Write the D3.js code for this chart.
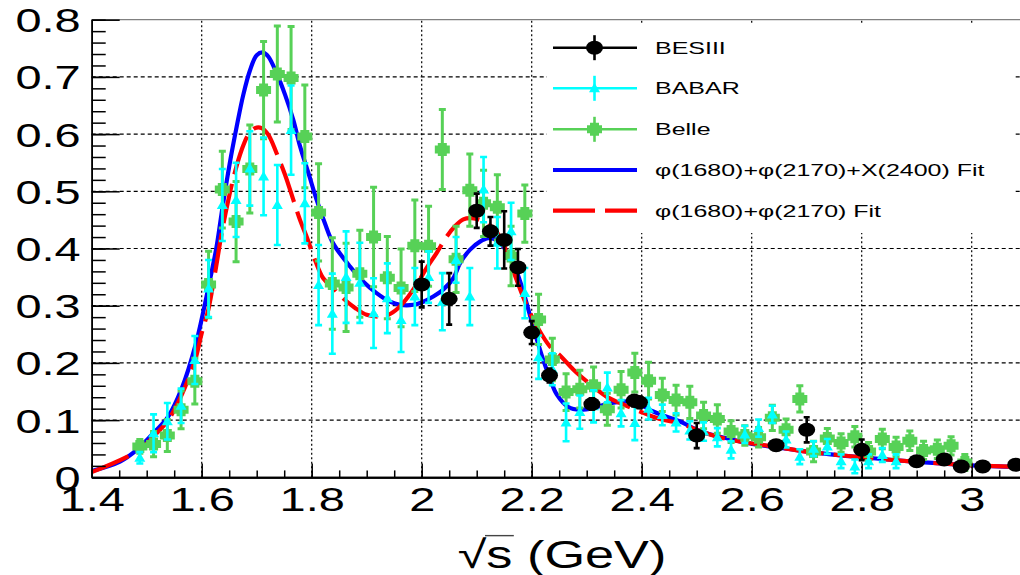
<!DOCTYPE html>
<html>
<head>
<meta charset="utf-8">
<script src="https://cdn.jsdelivr.net/npm/d3@7"></script>
<style>
  html, body { margin: 0; padding: 0; background: #fff; }
  svg { display: block; }
  text { font-family: "Liberation Sans", Arial, Helvetica, sans-serif; fill: #000; }
</style>
</head>
<body>
<svg id="chart" width="1020" height="575"></svg>
<script>
// ---------------- data ----------------
const xTicks = [1.4, 1.6, 1.8, 2.0, 2.2, 2.4, 2.6, 2.8, 3.0];
const xTickLabels = ["1.4", "1.6", "1.8", "2", "2.2", "2.4", "2.6", "2.8", "3"];
const yTicks = [0, 0.1, 0.2, 0.3, 0.4, 0.5, 0.6, 0.7, 0.8];
const yTickLabels = ["0", "0.1", "0.2", "0.3", "0.4", "0.5", "0.6", "0.7", "0.8"];

// BESIII
const besX = [2.0, 2.05, 2.1, 2.125, 2.15, 2.175, 2.2, 2.2324, 2.3094, 2.3864, 2.396, 2.5, 2.6444, 2.7, 2.8, 2.9, 2.95, 2.981, 3.02, 3.08];
const besY = [0.337, 0.312, 0.466, 0.43, 0.415, 0.367, 0.253, 0.178, 0.128, 0.134, 0.131, 0.073, 0.056, 0.083, 0.048, 0.028, 0.031, 0.019, 0.019, 0.022];
const besErr = [0.04, 0.045, 0.03, 0.025, 0.05, 0.032, 0.02, 0.012, 0.01, 0.01, 0.01, 0.022, 0.007, 0.022, 0.018, 0.005, 0.006, 0.005, 0.005, 0.004];

// BABAR
const babarX = [1.4875, 1.5125, 1.5375, 1.5625, 1.5875, 1.6125, 1.6375, 1.6625, 1.6875, 1.7125,
  1.7375, 1.7625, 1.7875, 1.8125, 1.8375, 1.8625, 1.8875, 1.9125, 1.9375, 1.9625,
  1.9875, 2.0125, 2.0375, 2.0625, 2.0875, 2.1125, 2.1375, 2.1625, 2.1875, 2.2125,
  2.2375, 2.2625, 2.2875, 2.3125, 2.3375, 2.3625, 2.3875, 2.4125, 2.4375, 2.4625,
  2.4875, 2.5125, 2.5375, 2.5625, 2.5875, 2.6125, 2.6375, 2.6625, 2.6875, 2.7125,
  2.7375, 2.7625, 2.7875, 2.8125, 2.8375, 2.8625];
const babarY = [0.034, 0.077, 0.098, 0.125, 0.205, 0.33, 0.476, 0.485, 0.54, 0.526,
  0.476, 0.607, 0.479, 0.336, 0.286, 0.35, 0.34, 0.287, 0.313, 0.275,
  0.316, 0.35, 0.307, 0.38, 0.316, 0.503, 0.41, 0.43, 0.322, 0.21,
  0.189, 0.096, 0.114, 0.124, 0.157, 0.112, 0.095, 0.12, 0.109, 0.096,
  0.082, 0.08, 0.07, 0.048, 0.075, 0.086, 0.11, 0.066, 0.036, 0.05,
  0.054, 0.028, 0.019, 0.028, 0.039, 0.028];
const babarErr = [0.01, 0.033, 0.032, 0.03, 0.042, 0.05, 0.063, 0.065, 0.065, 0.068,
  0.07, 0.078, 0.07, 0.07, 0.07, 0.08, 0.07, 0.061, 0.061, 0.056,
  0.05, 0.045, 0.05, 0.04, 0.05, 0.057, 0.045, 0.05, 0.044, 0.038,
  0.028, 0.033, 0.029, 0.028, 0.026, 0.023, 0.03, 0.019, 0.018, 0.016,
  0.016, 0.016, 0.016, 0.015, 0.015, 0.015, 0.015, 0.014, 0.013, 0.013,
  0.013, 0.012, 0.012, 0.012, 0.012, 0.012];

// Belle
const belleX = [1.4875, 1.5125, 1.5375, 1.5625, 1.5875, 1.6125, 1.6375, 1.6625, 1.6875, 1.7125,
  1.7375, 1.7625, 1.7875, 1.8125, 1.8375, 1.8625, 1.8875, 1.9125, 1.9375, 1.9625,
  1.9875, 2.0125, 2.0375, 2.0625, 2.0875, 2.1125, 2.1375, 2.1625, 2.1875, 2.2125,
  2.2375, 2.2625, 2.2875, 2.3125, 2.3375, 2.3625, 2.3875, 2.4125, 2.4375, 2.4625,
  2.4875, 2.5125, 2.5375, 2.5625, 2.5875, 2.6125, 2.6375, 2.6625, 2.6875, 2.7125,
  2.7375, 2.7625, 2.7875, 2.8125, 2.8375, 2.8625, 2.8875, 2.9125, 2.9375, 2.9625,
  2.9875];
const belleY = [0.054, 0.058, 0.073, 0.118, 0.168, 0.337, 0.503, 0.447, 0.539, 0.677,
  0.705, 0.698, 0.596, 0.463, 0.339, 0.332, 0.356, 0.42, 0.349, 0.331,
  0.405, 0.404, 0.573, 0.381, 0.502, 0.479, 0.472, 0.387, 0.461, 0.276,
  0.206, 0.149, 0.154, 0.16, 0.119, 0.153, 0.183, 0.169, 0.144, 0.135,
  0.131, 0.108, 0.102, 0.08, 0.073, 0.07, 0.104, 0.083, 0.137, 0.045,
  0.068, 0.06, 0.071, 0.045, 0.067, 0.053, 0.064, 0.047, 0.049, 0.055,
  0.026];
const belleErr = [0.012, 0.022, 0.028, 0.033, 0.04, 0.058, 0.067, 0.07, 0.077, 0.085,
  0.084, 0.09, 0.09, 0.085, 0.08, 0.077, 0.076, 0.087, 0.072, 0.068,
  0.08, 0.07, 0.07, 0.058, 0.063, 0.058, 0.057, 0.052, 0.05, 0.044,
  0.037, 0.032, 0.033, 0.033, 0.028, 0.032, 0.034, 0.032, 0.029, 0.026,
  0.028, 0.023, 0.025, 0.019, 0.017, 0.017, 0.022, 0.019, 0.023, 0.018,
  0.0175, 0.016, 0.018, 0.016, 0.017, 0.017, 0.017, 0.016, 0.016, 0.016,
  0.014];

// phi(1680)+phi(2170)+X(2400) fit curve
const fit3X = [1.40, 1.4515, 1.482, 1.515, 1.539, 1.5636, 1.589, 1.603, 1.615, 1.627,
  1.638, 1.651, 1.6636, 1.6757, 1.688, 1.700, 1.712, 1.721, 1.736, 1.7515,
  1.7665, 1.779, 1.794, 1.809, 1.824, 1.839, 1.8697, 1.894, 1.918, 1.9424,
  1.9605, 1.9848, 2.003, 2.021, 2.039, 2.0575, 2.0697, 2.088, 2.106, 2.121,
  2.136, 2.151, 2.1666, 2.182, 2.194, 2.206, 2.218, 2.233, 2.2455, 2.2666,
  2.288, 2.312, 2.336, 2.36, 2.378, 2.397, 2.421, 2.4455, 2.47, 2.494,
  2.518, 2.5424, 2.5666, 2.591, 2.64, 2.70, 2.80, 2.90, 3.00, 3.10];
const fit3Y = [0.011, 0.0276, 0.048, 0.08, 0.106, 0.155, 0.232, 0.29, 0.345, 0.403,
  0.473, 0.549, 0.613, 0.669, 0.712, 0.738, 0.7426, 0.7356, 0.707, 0.669,
  0.625, 0.578, 0.532, 0.485, 0.444, 0.409, 0.3685, 0.342, 0.322, 0.307,
  0.3016, 0.3016, 0.307, 0.316, 0.328, 0.348, 0.3745, 0.398, 0.412, 0.418,
  0.415, 0.40, 0.3745, 0.3335, 0.293, 0.252, 0.214, 0.173, 0.145, 0.123,
  0.118, 0.121, 0.128, 0.132, 0.1325, 0.127, 0.115, 0.106, 0.0976, 0.086,
  0.077, 0.071, 0.0656, 0.06, 0.053, 0.045, 0.035, 0.027, 0.021, 0.018];

// phi(1680)+phi(2170) fit curve
const fit2X = [1.40, 1.482, 1.512, 1.539, 1.5636, 1.588, 1.60, 1.612, 1.6242, 1.6364,
  1.6485, 1.66, 1.6727, 1.6848, 1.697, 1.709, 1.721, 1.736, 1.7515, 1.7666,
  1.7787, 1.791, 1.806, 1.821, 1.839, 1.857, 1.879, 1.90, 1.921, 1.9393,
  1.9575, 1.9757, 1.994, 2.009, 2.027, 2.0455, 2.06, 2.0757, 2.091, 2.106,
  2.124, 2.1424, 2.157, 2.1727, 2.188, 2.203, 2.218, 2.233, 2.2515, 2.276,
  2.306, 2.336, 2.36, 2.397, 2.433, 2.47, 2.5055, 2.542, 2.578, 2.639,
  2.70, 2.80, 2.90, 3.00, 3.10];
const fit2Y = [0.009, 0.045, 0.071, 0.10, 0.144, 0.205, 0.252, 0.293, 0.357, 0.427,
  0.485, 0.532, 0.5726, 0.599, 0.6105, 0.6105, 0.599, 0.567, 0.529, 0.485,
  0.45, 0.42, 0.38, 0.348, 0.331, 0.313, 0.296, 0.284, 0.281, 0.284,
  0.296, 0.316, 0.342, 0.366, 0.392, 0.421, 0.4385, 0.451, 0.453, 0.45,
  0.441, 0.421, 0.386, 0.345, 0.307, 0.276, 0.25, 0.229, 0.213, 0.188,
  0.163, 0.141, 0.13, 0.115, 0.102, 0.094, 0.081, 0.070, 0.0626, 0.054,
  0.045, 0.035, 0.027, 0.021, 0.018];

const legendLabels = ["BESIII", "BABAR", "Belle",
  "\u03C6(1680)+\u03C6(2170)+X(2400) Fit", "\u03C6(1680)+\u03C6(2170) Fit"];

// ---------------- styling ----------------
const COL = { bes: "#000000", babar: "#00ffff", belle: "#57d157", fit3: "#0000ff", fit2: "#ff0000" };
const SX = 1.38;          // horizontal stretch of the text glyphs

const svg = d3.select("#chart");
const x = d3.scaleLinear().domain([1.4, 3.1]).range([91.7, 1026.7]);
const y = d3.scaleLinear().domain([0, 0.8]).range([477.3, 19.7]);
const [X0, X1] = x.range();
const [YB, YT] = y.range();

svg.append("defs").append("clipPath").attr("id", "plotArea")
  .append("rect").attr("x", X0).attr("y", YT).attr("width", X1 - X0).attr("height", YB - YT);

// grid
const grid = svg.append("g").attr("stroke", "#000").attr("stroke-width", 1.2);
grid.selectAll("line.gx").data(xTicks.slice(1)).join("line")
  .attr("x1", d => x(d)).attr("x2", d => x(d)).attr("y1", YB).attr("y2", YT)
  .attr("stroke-dasharray", "2,2.5");
grid.selectAll("line.gy").data(yTicks.slice(1, -1)).join("line")
  .attr("x1", X0).attr("x2", X1).attr("y1", d => y(d)).attr("y2", d => y(d))
  .attr("stroke-dasharray", "4,3");

// top frame edge
svg.append("line").attr("x1", X0).attr("x2", X1).attr("y1", YT).attr("y2", YT)
  .attr("stroke", "#808080").attr("stroke-width", 1.2);

// legend background hides the grid behind it
svg.append("rect").attr("x", 547).attr("y", 25).attr("width", 468).attr("height", 208).attr("fill", "#fff");

// ---------------- curves ----------------
const plot = svg.append("g").attr("clip-path", "url(#plotArea)");
const line = d3.line().x(d => x(d[0])).y(d => y(d[1])).curve(d3.curveCatmullRom.alpha(0.5));

plot.append("path").datum(d3.zip(fit3X, fit3Y)).attr("d", line)
  .attr("fill", "none").attr("stroke", COL.fit3).attr("stroke-width", 4.2).attr("stroke-linejoin", "round");
plot.append("path").datum(d3.zip(fit2X, fit2Y)).attr("d", line)
  .attr("fill", "none").attr("stroke", COL.fit2).attr("stroke-width", 4.2)
  .attr("stroke-dasharray", "40,10");

// ---------------- markers ----------------
const markerPath = {
  triangle: "M0,-5.5L5.5,4L-5.5,4Z",
  cross: "M-4.5,-6.5L4.5,-6.5L4.5,-4L7.5,-4L7.5,4L4.5,4L4.5,6.5L-4.5,6.5L-4.5,4L-7.5,4L-7.5,-4L-4.5,-4Z"
};

function drawMarker(g, kind, color) {
  if (kind === "ellipse") {
    g.append("ellipse").attr("rx", 8.5).attr("ry", 7).attr("fill", color);
  } else {
    g.append("path").attr("d", markerPath[kind]).attr("fill", color);
  }
}

function drawSeries(xs, ys, es, color, kind, cap, width) {
  const g = plot.append("g");
  const pts = d3.zip(xs, ys, es);
  const bars = g.append("g").attr("stroke", color).attr("stroke-width", width);
  bars.selectAll("line.v").data(pts).join("line")
    .attr("x1", d => x(d[0])).attr("x2", d => x(d[0]))
    .attr("y1", d => y(d[1] - d[2])).attr("y2", d => y(d[1] + d[2]));
  bars.selectAll("line.lo").data(pts).join("line")
    .attr("x1", d => x(d[0]) - cap).attr("x2", d => x(d[0]) + cap)
    .attr("y1", d => y(d[1] - d[2])).attr("y2", d => y(d[1] - d[2]));
  bars.selectAll("line.hi").data(pts).join("line")
    .attr("x1", d => x(d[0]) - cap).attr("x2", d => x(d[0]) + cap)
    .attr("y1", d => y(d[1] + d[2])).attr("y2", d => y(d[1] + d[2]));
  g.append("g").selectAll("g").data(pts).join("g")
    .attr("transform", d => `translate(${x(d[0])},${y(d[1])})`)
    .each(function () { drawMarker(d3.select(this), kind, color); });
}

drawSeries(belleX, belleY, belleErr, COL.belle, "cross", 3.5, 3);
drawSeries(babarX, babarY, babarErr, COL.babar, "triangle", 3.5, 2.6);
drawSeries(besX, besY, besErr, COL.bes, "ellipse", 3, 2.6);

// ---------------- axes ----------------
const xMinor = d3.range(1.4, 3.1001, 0.05);
const yMinor = d3.range(0, 0.8001, 0.02);

function styleAxis(g, w) {
  g.select(".domain").attr("stroke", "#000").attr("stroke-width", w);
  g.selectAll(".tick line").attr("stroke", "#000").attr("stroke-width", 1.5);
}

const gxMinor = svg.append("g").attr("transform", `translate(0,${YB})`)
  .call(d3.axisBottom(x).tickValues(xMinor).tickSize(-6.9).tickSizeOuter(0).tickFormat(""));
styleAxis(gxMinor, 2);
const gx = svg.append("g").attr("transform", `translate(0,${YB})`)
  .call(d3.axisBottom(x).tickValues(xTicks).tickSize(-13.7).tickSizeOuter(0)
    .tickFormat((d, i) => xTickLabels[i]));
styleAxis(gx, 2);
gx.selectAll(".tick text")
  .attr("y", null).attr("dy", null)
  .attr("transform", `translate(0,34) scale(${SX},1)`)
  .attr("font-size", 34).attr("fill", "#000");

const gyMinor = svg.append("g").attr("transform", `translate(${X0},0)`)
  .call(d3.axisLeft(y).tickValues(yMinor).tickSize(-14).tickSizeOuter(0).tickFormat(""));
styleAxis(gyMinor, 1.6);
const gy = svg.append("g").attr("transform", `translate(${X0},0)`)
  .call(d3.axisLeft(y).tickValues(yTicks).tickSize(-28).tickSizeOuter(0)
    .tickFormat((d, i) => yTickLabels[i]));
styleAxis(gy, 1.6);
gy.selectAll(".tick text")
  .attr("x", null).attr("dy", null)
  .attr("transform", `translate(-11,12) scale(${SX},1)`)
  .attr("text-anchor", "end")
  .attr("font-size", 34).attr("fill", "#000");

// axis title: sqrt(s) (GeV)
const tg = svg.append("g").attr("transform", `translate(562,568) scale(1.34,1)`);
const title = tg.append("text").attr("text-anchor", "middle").attr("font-size", 39);
title.append("tspan").text("\u221A");
title.append("tspan").text("s (GeV)");
(function addRadicalBar() {
  const node = title.node();
  const r = node.getExtentOfChar(0);
  const s = node.getExtentOfChar(1);
  tg.append("line")
    .attr("x1", r.x + r.width - 1).attr("x2", s.x + s.width + 1)
    .attr("y1", -0.83 * 39).attr("y2", -0.83 * 39)
    .attr("stroke", "#444").attr("stroke-width", 1.4);
})();

// ---------------- legend ----------------
const legRows = [47.7, 88.3, 129.3, 170, 210.7];
const legX0 = 553, legX1 = 637, legXm = 594.5;
const leg = svg.append("g");
const legendStyle = [
  { color: COL.bes, marker: "ellipse", bar: true },
  { color: COL.babar, marker: "triangle", bar: true },
  { color: COL.belle, marker: "cross", bar: true },
  { color: COL.fit3, line: 4.2 },
  { color: COL.fit2, line: 4.2, dash: "42,10" }
];
legendLabels.forEach((label, i) => {
  const st = legendStyle[i];
  const yy = legRows[i];
  const row = leg.append("g");
  if (st.line) {
    row.append("line").attr("x1", legX0).attr("x2", legX1).attr("y1", yy).attr("y2", yy)
      .attr("stroke", st.color).attr("stroke-width", st.line)
      .attr("stroke-dasharray", st.dash || null);
  } else {
    row.append("line").attr("x1", legX0).attr("x2", legX1).attr("y1", yy).attr("y2", yy)
      .attr("stroke", st.color).attr("stroke-width", 2.4);
    row.append("line").attr("x1", legXm).attr("x2", legXm).attr("y1", yy - 12.5).attr("y2", yy + 12.5)
      .attr("stroke", st.color).attr("stroke-width", 2.6);
    const mg = row.append("g").attr("transform", `translate(${legXm},${yy})`);
    drawMarker(mg, st.marker, st.color);
  }
  row.append("g").attr("transform", `translate(655,${yy + 6}) scale(1.47,1)`)
    .append("text").attr("font-size", 17).text(label);
});
</script>
</body>
</html>
